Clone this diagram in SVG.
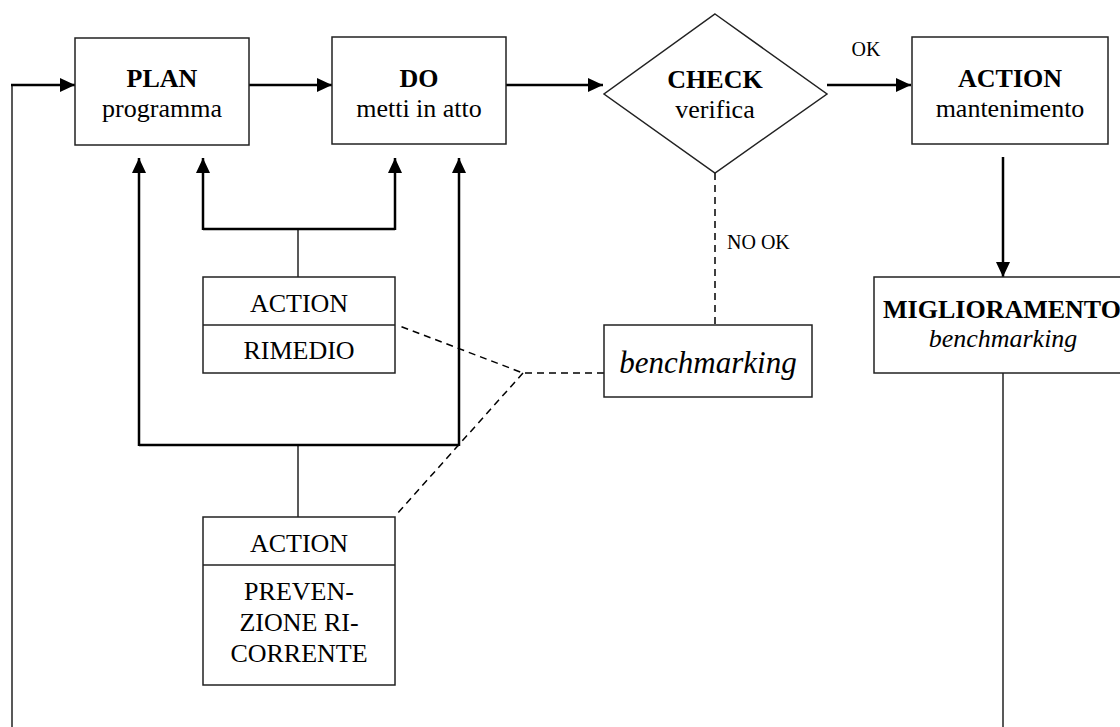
<svg xmlns="http://www.w3.org/2000/svg" width="1120" height="727" viewBox="0 0 1120 727">
<style>
.box{fill:#fff;stroke:#222;stroke-width:1.5}
.t{font-family:"Liberation Serif","Times New Roman",serif;font-size:26px;fill:#000;text-anchor:middle}
.b{font-weight:bold}
.i{font-style:italic}
.lbl{font-family:"Liberation Serif","Times New Roman",serif;font-size:20px;fill:#000}
.thick{fill:none;stroke:#000;stroke-width:2.5}
.thin{fill:none;stroke:#222;stroke-width:1.5}
.dash{fill:none;stroke:#000;stroke-width:1.5;stroke-dasharray:7 5}
</style>
<defs>
<marker id="ah" markerUnits="userSpaceOnUse" markerWidth="16" markerHeight="14" refX="15" refY="7" orient="auto">
<path d="M0,0 L15,7 L0,14 z" fill="#000"/>
</marker>
</defs>
<rect width="1120" height="727" fill="#fff"/>
<g id="connectors">
<path class="thin" d="M12 85 V727"/>
<path class="thick" d="M11 85 H75" marker-end="url(#ah)"/>
<path class="thick" d="M249 85 H332" marker-end="url(#ah)"/>
<path class="thick" d="M506 85 H603" marker-end="url(#ah)"/>
<path class="thick" d="M827 85 H911" marker-end="url(#ah)"/>
<path class="thick" d="M1003 157 V277" marker-end="url(#ah)"/>
<path class="thin" d="M1003 373 V727"/>
<path class="thin" d="M298 277 V229"/>
<path class="thick" d="M203 229 H395"/>
<path class="thick" d="M203 230 V158" marker-end="url(#ah)"/>
<path class="thick" d="M395 230 V158" marker-end="url(#ah)"/>
<path class="thin" d="M298 517 V445"/>
<path class="thick" d="M139 445 H459"/>
<path class="thick" d="M139 446 V158" marker-end="url(#ah)"/>
<path class="thick" d="M459 446 V158" marker-end="url(#ah)"/>
<path class="dash" d="M715 173 V325"/>
<path class="dash" d="M604 373 H523 L397 325"/>
<path class="dash" d="M523 373 L396 515"/>
<text class="lbl" x="866" y="56" text-anchor="middle">OK</text>
<text class="lbl" x="727" y="249">NO OK</text>
</g>
<g id="plan">
<rect class="box" x="75" y="38" width="174" height="107"/>
<text class="t b" x="162" y="87">PLAN</text>
<text class="t" x="162" y="117">programma</text>
</g>
<g id="do">
<rect class="box" x="332" y="37" width="174" height="107"/>
<text class="t b" x="419" y="87">DO</text>
<text class="t" x="419" y="117">metti in atto</text>
</g>
<g id="check">
<polygon class="box" points="715,14 827,94 715,173 604,94"/>
<text class="t b" x="715" y="88">CHECK</text>
<text class="t" x="715" y="118">verifica</text>
</g>
<g id="action-mantenimento">
<rect class="box" x="912" y="37" width="196" height="107"/>
<text class="t b" x="1010" y="87">ACTION</text>
<text class="t" x="1010" y="117">mantenimento</text>
</g>
<g id="miglioramento">
<rect class="box" x="874" y="277" width="270" height="96"/>
<text class="t b" x="1002" y="318">MIGLIORAMENTO</text>
<text class="t i" x="1003" y="347">benchmarking</text>
</g>
<g id="benchmarking">
<rect class="box" x="604" y="325" width="208" height="72"/>
<text class="t i" x="708" y="373" style="font-size:31px">benchmarking</text>
</g>
<g id="action-rimedio">
<rect class="box" x="203" y="277" width="192" height="96"/>
<line class="thin" x1="203" y1="325" x2="395" y2="325"/>
<text class="t" x="299" y="312">ACTION</text>
<text class="t" x="299" y="359">RIMEDIO</text>
</g>
<g id="action-prevenzione">
<rect class="box" x="203" y="517" width="192" height="168"/>
<line class="thin" x1="203" y1="565" x2="395" y2="565"/>
<text class="t" x="299" y="552">ACTION</text>
<text class="t" x="299" y="600">PREVEN-</text>
<text class="t" x="299" y="631">ZIONE RI-</text>
<text class="t" x="299" y="662">CORRENTE</text>
</g>
</svg>
